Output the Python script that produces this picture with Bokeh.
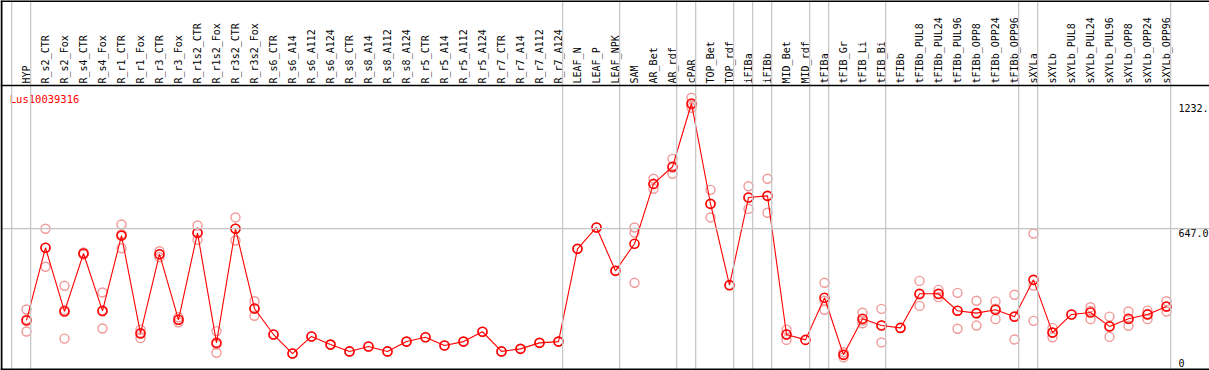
import math
from bokeh.plotting import figure
from bokeh.models import Range1d, Span
from bokeh.embed import file_html
from bokeh.resources import INLINE
from bokeh.core.properties import value

gene_id = "Lus10039316"

samples = [
    "HYP", "R_s2_CTR", "R_s2_Fox", "R_s4_CTR", "R_s4_Fox", "R_r1_CTR", "R_r1_Fox",
    "R_r3_CTR", "R_r3_Fox", "R_r1s2_CTR", "R_r1s2_Fox", "R_r3s2_CTR", "R_r3s2_Fox",
    "R_s6_CTR", "R_s6_A14", "R_s6_A112", "R_s6_A124", "R_s8_CTR", "R_s8_A14",
    "R_s8_A112", "R_s8_A124", "R_r5_CTR", "R_r5_A14", "R_r5_A112", "R_r5_A124",
    "R_r7_CTR", "R_r7_A14", "R_r7_A112", "R_r7_A124", "LEAF_N", "LEAF_P", "LEAF_NPK",
    "SAM", "AR_Bet", "AR_rdf", "cPAR", "TOP_Bet", "TOP_rdf", "iFIBa", "iFIBb",
    "MID_Bet", "MID_rdf", "tFIBa", "tFIB_Gr", "tFIB_Li", "tFIB_Bi", "tFIBb",
    "tFIBb_PUL8", "tFIBb_PUL24", "tFIBb_PUL96", "tFIBb_OPP8", "tFIBb_OPP24",
    "tFIBb_OPP96", "sXYLa", "sXYLb", "sXYLb_PUL8", "sXYLb_PUL24", "sXYLb_PUL96",
    "sXYLb_OPP8", "sXYLb_OPP24", "sXYLb_OPP96",
]

mean_expr = [
    217, 557, 259, 530, 262, 614, 156, 527, 220, 627, 112, 646, 273,
    151, 62, 142, 104, 72, 95, 72, 118, 138, 100, 118, 164, 72, 84, 112, 118,
    552, 652, 449, 576, 856, 936, 1232, 763, 382, 792, 800, 151, 126,
    323, 56, 225, 193, 182, 342, 342, 262, 251, 267, 234,
    407, 160, 245, 254, 189, 225, 245, 282,
]

replicates = [
    [268, 222, 165], [646, 557, 468], [379, 266, 132], [535, 530, 525],
    [348, 259, 179], [666, 621, 555], [174, 159, 134], [541, 527, 513],
    [232, 220, 208], [661, 626, 594], [167, 104, 66], [699, 647, 591],
    [307, 273, 239], [151], [62], [142], [104], [72], [95], [72], [118],
    [138], [100], [118], [164], [72], [84], [112], [118],
    [552], [652], [449], [652, 628, 393], [880, 855, 833], [973, 932, 903],
    [1259, 1225, 1212], [828, 761, 699], [382], [845, 792, 739], [880, 799, 721],
    [174, 152, 126], [126], [393, 309, 267], [68, 56, 44], [253, 217, 204],
    [271, 195, 114], [182], [402, 338, 285], [360, 339, 326], [346, 262, 178],
    [309, 250, 193], [306, 272, 223], [337, 237, 128], [624, 380, 215],
    [182, 160, 138], [245], [279, 261, 223], [235, 190, 140], [259, 223, 192],
    [263, 248, 223], [307, 281, 259],
]

# sample index after which a group separator is drawn
group_ends = [0, 1, 29, 32, 35, 36, 38, 39, 40, 42, 43, 46, 53, 54, 61]

scale_values = [1232, 647, 0]
scale_labels = ["1232.", "647.0", "0"]

xs = list(range(1, len(samples) + 1))
rep_x, rep_y = [], []
for i, reps in zip(xs, replicates):
    for r in reps:
        rep_x.append(i)
        rep_y.append(r)

p = figure(width=1209, height=370, output_backend="svg", toolbar_location=None,
           x_range=Range1d(-0.368, 63.263), y_range=Range1d(-17.3, 1714.1),
           x_axis_type=None, y_axis_type=None, min_border=0,
           outline_line_color=None, background_fill_color="white",
           border_fill_color="white")
p.grid.visible = False

MONO = value("DejaVu Sans Mono")
GRAY = "#c4c4c4"

# group separators
for g in group_ends:
    p.add_layout(Span(location=g + 0.22, dimension="height", line_color=GRAY, line_width=1.2))
# scale line at middle value
p.add_layout(Span(location=scale_values[1], dimension="width", line_color=GRAY, line_width=1.2))

# frame lines
p.add_layout(Span(location=1711.5, dimension="width", line_color="black", line_width=2))
p.add_layout(Span(location=1316, dimension="width", line_color="black", line_width=1.5))
p.add_layout(Span(location=-12.6, dimension="width", line_color="black", line_width=2))
p.add_layout(Span(location=-0.316, dimension="height", line_color="black", line_width=2))

# header labels
p.text(x=xs, y=[1326] * len(xs), text=samples, angle=math.pi / 2,
       text_align="left", text_baseline="middle", text_font=MONO,
       text_font_size="10px", text_color="black")

# gene id
p.text(x=[0.12], y=[1255], text=[gene_id], text_align="left", text_baseline="middle",
       text_font=MONO, text_font_size="10.5px", text_color="red")

# scale labels
p.text(x=[61.63, 61.63], y=scale_values[:2], text=scale_labels[:2], text_align="left",
       text_baseline="top", text_font=MONO, text_font_size="10px", text_color="black")
p.text(x=[61.63], y=scale_values[2:], text=scale_labels[2:], text_align="left",
       text_baseline="bottom", text_font=MONO, text_font_size="10px", text_color="black")

# replicates
p.scatter(rep_x, rep_y, marker="circle", size=9, fill_color=None,
          line_color="#f29a9a", line_width=1.4)
# mean line and markers
p.line(xs, mean_expr, line_color="red", line_width=1.1)
p.scatter(xs, mean_expr, marker="circle", size=9, fill_color=None,
          line_color="red", line_width=1.6)

open("out.html", "w").write(file_html(p, INLINE))
